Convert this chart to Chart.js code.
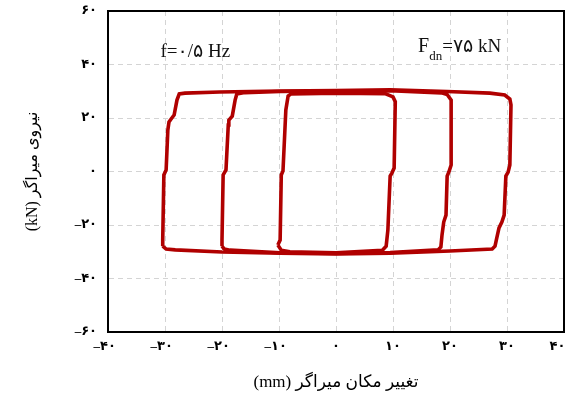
<!DOCTYPE html>
<html>
<head>
<meta charset="utf-8">
<script src="https://cdn.jsdelivr.net/npm/chart.js@4"></script>
<style>
  html, body { margin: 0; padding: 0; background: #fff; }
  #wrap { width: 567px; height: 407px; }
</style>
</head>
<body>
<div id="wrap"><canvas id="damper-chart" width="567" height="407"></canvas></div>
<script>
// tick labels (Persian digits)
const xTickLabels = ['–۴۰', '–۳۰', '–۲۰', '–۱۰', '۰', '۱۰', '۲۰', '۳۰', '۴۰'];
const yTickLabels = ['–۶۰', '–۴۰', '–۲۰', '۰', '۲۰', '۴۰', '۶۰'];

// loop at +-30 mm
const loop30X = [-30.4, -30.4, -30.2, -29.8, -29.5, -29.3, -28.8, -28.4, -27.9, -27.5, -26.5, -20.4, -9.8, 0, 9.5, 19.5, 27.0, 29.6, 30.5, 30.7, 30.5, 30.2, 29.8, 29.5, 29.1, 28.6, 28.2, 27.9, 27.4, 20.0, 9.5, 0, -9.8, -20.0, -28.2, -29.8, -30.4];
const loop30Y = [-27.9, -25.6, -1.3, 0.6, 15.5, 18.5, 20.0, 21.1, 26.7, 29.0, 29.3, 29.7, 30.1, 30.3, 30.5, 29.9, 29.3, 28.6, 27.1, 24.9, 2.4, -0.2, -1.7, -16.3, -18.9, -21.1, -24.9, -27.9, -29.0, -29.7, -30.5, -30.8, -30.5, -30.1, -29.3, -29.0, -27.9];

// loop at +-20 mm
const loop20X = [-20.0, -20.0, -19.8, -19.3, -18.9, -18.8, -18.2, -17.7, -17.4, -16.0, -9.8, 0, 9.5, 18.5, 19.5, 20.2, 20.2, 19.8, 19.5, 19.3, 18.9, 18.6, 18.4, 17.9, 9.5, 0, -9.8, -18.6, -19.6, -20.0];
const loop20Y = [-27.9, -25.6, -1.3, 0.6, 17.4, 19.2, 20.7, 26.7, 29.0, 29.5, 29.9, 30.1, 30.2, 29.4, 28.8, 26.7, 2.4, -0.2, -1.7, -16.3, -18.9, -23.7, -28.2, -29.3, -30.3, -30.6, -30.4, -29.4, -29.0, -27.9];

// loop at +-10 mm
const loop10X = [-10.2, -9.8, -9.6, -9.3, -8.8, -8.4, -7.9, 0, 8.6, 10.0, 10.4, 10.2, 9.8, 9.5, 9.1, 8.8, 8.1, 0, -8.1, -9.6, -10.2];
const loop10Y = [-27.5, -25.6, -1.3, 0.2, 23.0, 28.2, 29.0, 29.3, 29.1, 27.9, 26.1, 1.3, -0.6, -1.7, -21.9, -27.9, -29.5, -30.4, -30.0, -29.4, -27.5];

const toPoints = (xs, ys) => xs.map((x, i) => ({ x: x, y: ys[i] }));

const lineColor = '#b00000';
const serif = "'Liberation Serif', 'DejaVu Serif', 'DejaVu Sans', serif";

// keep the digits centred under the grid line (the dash hangs to the left),
// and pull the last label inside the canvas
const xLabel = (value, index) => {
    let s = xTickLabels[index];
    if (value < 0) s += '\u2002';
    if (value === 40) s += '\u2002\u2002';
    return s;
};

const frameAndNotes = {
    id: 'frameAndNotes',
    afterDatasetsDraw(chart) {
        const { ctx, chartArea, scales } = chart;
        ctx.save();
        ctx.strokeStyle = '#000';
        ctx.lineWidth = 2;
        ctx.strokeRect(chartArea.left, chartArea.top, chartArea.right - chartArea.left, chartArea.bottom - chartArea.top);

        ctx.fillStyle = '#111';
        ctx.textBaseline = 'middle';
        ctx.textAlign = 'left';

        // f = 0.5 Hz
        ctx.font = '19px ' + serif;
        ctx.fillText('f=۰/۵ Hz', scales.x.getPixelForValue(-30.8), scales.y.getPixelForValue(44.5));

        // F_dn = 75 kN
        let px = scales.x.getPixelForValue(14.4);
        const py = scales.y.getPixelForValue(46.5);
        ctx.font = '20px ' + serif;
        ctx.fillText('F', px, py);
        px += ctx.measureText('F').width;
        ctx.font = '13px ' + serif;
        ctx.fillText('dn', px, py + 9);
        px += ctx.measureText('dn').width;
        ctx.font = '19px ' + serif;
        ctx.fillText('=۷۵ kN', px, py);
        ctx.restore();
    }
};

const ctx = document.getElementById('damper-chart');
new Chart(ctx, {
    type: 'scatter',
    data: {
        datasets: [
            { data: toPoints(loop30X, loop30Y) },
            { data: toPoints(loop20X, loop20Y) },
            { data: toPoints(loop10X, loop10Y) }
        ].map(ds => Object.assign(ds, {
            showLine: true,
            borderColor: lineColor,
            borderWidth: 3.6,
            pointRadius: 0,
            tension: 0,
            fill: false
        }))
    },
    options: {
        responsive: false,
        animation: false,
        layout: { padding: { top: 11, right: 3, left: 0, bottom: 0 } },
        plugins: { legend: { display: false }, tooltip: { enabled: false } },
        scales: {
            x: {
                min: -40, max: 40,
                ticks: {
                    stepSize: 10,
                    color: '#000',
                    padding: 7,
                    maxRotation: 0,
                    font: { family: serif, size: 13, weight: 'bold' },
                    callback: xLabel
                },
                grid: { color: '#d4d4d4', drawTicks: false },
                border: { display: true, color: '#000', width: 2, dash: [5, 4] },
                title: {
                    display: true,
                    text: '(mm) تغییر مکان میراگر',
                    color: '#000',
                    font: { family: serif, size: 17 },
                    padding: { top: 0, bottom: 14 }
                },
                afterFit: (scale) => {
                    scale.height = 75;
                    scale.paddingLeft = 0;
                    scale.paddingRight = 0;
                }
            },
            y: {
                min: -60, max: 60,
                ticks: {
                    stepSize: 20,
                    color: '#000',
                    padding: 11,
                    font: { family: serif, size: 13, weight: 'bold' },
                    callback: (value, index) => yTickLabels[index]
                },
                grid: { color: '#d4d4d4', drawTicks: false },
                border: { display: true, color: '#000', width: 2, dash: [5, 4] },
                title: {
                    display: true,
                    text: '(kN) نیروی میراگر',
                    color: '#000',
                    font: { family: serif, size: 16 },
                    padding: { top: 23, bottom: 0 }
                },
                afterFit: (scale) => {
                    scale.width = 108;
                    scale.paddingTop = 0;
                    scale.paddingBottom = 0;
                }
            }
        }
    },
    plugins: [frameAndNotes]
});
</script>
</body>
</html>
